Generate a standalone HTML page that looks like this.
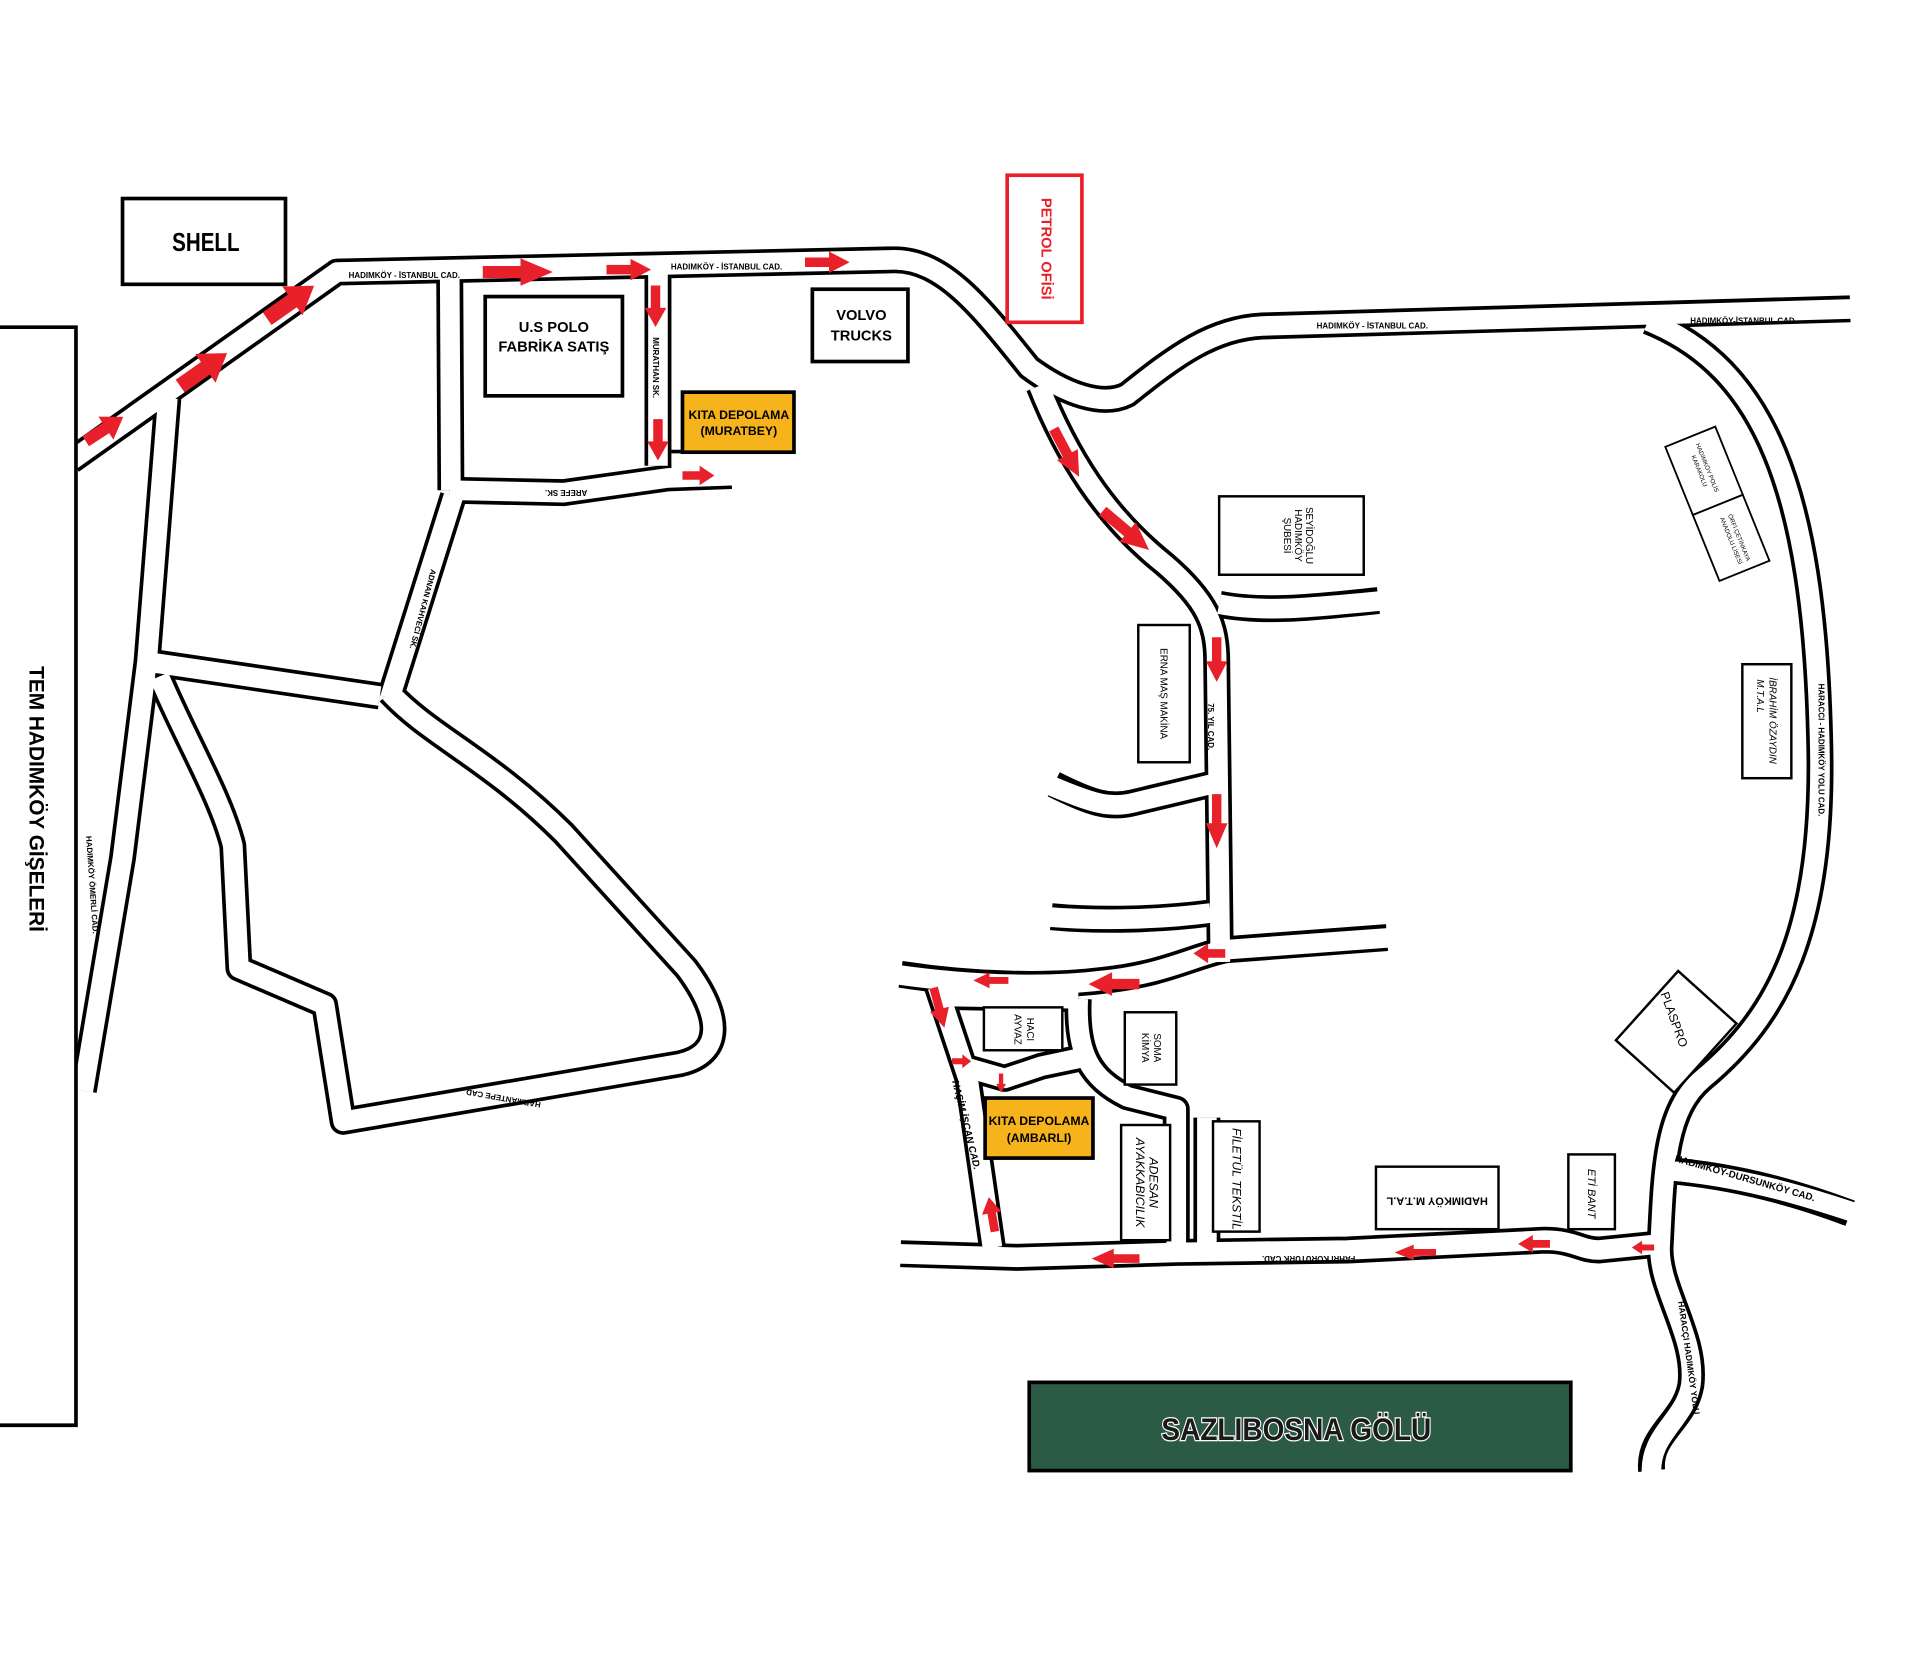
<!DOCTYPE html>
<html><head><meta charset="utf-8"><style>
html,body{margin:0;padding:0;background:#fff;width:1920px;height:1663px;overflow:hidden}
svg{display:block}
text{font-family:"Liberation Sans",sans-serif;font-weight:bold}
</style></head><body>
<svg width="1920" height="1663" viewBox="0 0 1567 1357" preserveAspectRatio="none" xmlns="http://www.w3.org/2000/svg">
<rect width="1567" height="1357" fill="#fff"/>
<g fill="none" stroke-linejoin="round" id="roads">
<g stroke="#000" stroke-width="22">
<path d="M58 376 L275 222 L730 212 C770 212 800 250 840 300 C870 322 900 332 920 322 C960 290 990 268 1030 266 L1510 252"/>
<path d="M848 315 C870 370 900 420 950 460 C985 490 993 510 993 540 L996 785"/>
<path d="M995 493 C1030 500 1070 496 1125 490"/>
<path d="M1345 262 C1440 300 1480 400 1485 600 C1490 760 1450 830 1390 880 C1360 905 1358 950 1355 1015 C1352 1050 1385 1090 1380 1130 C1375 1160 1345 1170 1348 1200"/>
<path d="M1360 955 C1420 960 1470 975 1510 990"/>
<path d="M735 1023 L830 1026 L960 1022 L1100 1020 L1260 1012 C1285 1012 1290 1020 1305 1020 L1355 1015"/>
<path d="M735 795 C800 805 860 805 900 800 C950 795 975 780 1000 775 L1132 765"/>
<path d="M860 640 C890 655 905 660 925 655 L988 640"/>
<path d="M858 748 C900 752 950 750 988 745"/>
<path d="M765 805 L790 880 L810 1018"/>
<path d="M765 813 L880 815"/>
<path d="M880 815 C878 860 890 880 920 895 L960 905 L960 1020"/>
<path d="M785 870 L820 880 L850 870 L888 862"/>
<path d="M985 912 L985 1020"/>
<path d="M367 218 L368 400"/>
<path d="M537 218 L537 380"/>
<path d="M367 400 L460 402 L545 390 L597 388"/>
<path d="M548 378 L597 378"/>
<path d="M370 405 L318 570"/>
<path d="M137 325 L120 540 L100 700 L68 890"/>
<path d="M120 540 L310 568"/>
<path d="M130 552 C150 600 180 650 190 690 L195 790 L265 820 L280 915 L555 868 C590 860 590 830 560 790 L460 680 C400 620 350 600 318 565"/>
</g>
<g stroke="#fff" stroke-width="16">
<path d="M58 376 L275 222 L730 212 C770 212 800 250 840 300 C870 322 900 332 920 322 C960 290 990 268 1030 266 L1515 252"/>
<path d="M848 315 C870 370 900 420 950 460 C985 490 993 510 993 540 L996 785"/>
<path d="M995 493 C1030 500 1070 496 1130 490"/>
<path d="M1345 262 C1440 300 1480 400 1485 600 C1490 760 1450 830 1390 880 C1360 905 1358 950 1355 1015 C1352 1050 1385 1090 1380 1130 C1375 1160 1345 1170 1348 1205"/>
<path d="M1360 955 C1420 960 1470 975 1515 990"/>
<path d="M730 1023 L830 1026 L960 1022 L1100 1020 L1260 1012 C1285 1012 1290 1020 1305 1020 L1355 1015"/>
<path d="M730 795 C800 805 860 805 900 800 C950 795 975 780 1000 775 L1137 765"/>
<path d="M855 640 C890 655 905 660 925 655 L988 640"/>
<path d="M853 748 C900 752 950 750 988 745"/>
<path d="M765 805 L790 880 L810 1018"/>
<path d="M765 813 L880 815"/>
<path d="M880 815 C878 860 890 880 920 895 L960 905 L960 1020"/>
<path d="M785 870 L820 880 L850 870 L888 862"/>
<path d="M985 912 L985 1020"/>
<path d="M367 218 L368 400"/>
<path d="M537 218 L537 380"/>
<path d="M367 400 L460 402 L545 390 L602 388"/>
<path d="M548 378 L602 378"/>
<path d="M370 405 L318 570"/>
<path d="M137 325 L120 540 L100 700 L68 890"/>
<path d="M120 540 L310 568"/>
<path d="M130 552 C150 600 180 650 190 690 L195 790 L265 820 L280 915 L555 868 C590 860 590 830 560 790 L460 680 C400 620 350 600 318 565"/>
</g>
</g>
<rect x="0" y="267" width="62" height="896" fill="#fff"/>
<polyline points="0,267 62,267 62,1163 0,1163" fill="none" stroke="#000" stroke-width="3"/>
<text transform="translate(24,652) rotate(90)" font-size="17" text-anchor="middle">TEM HADIMKÖY GİŞELERİ</text>

<defs><polygon id="ar" points="0,-3.5 14,-3.5 14,-8 26,0 14,8 14,3.5 0,3.5" fill="#e8202a"/></defs>
<g>
<use href="#ar" transform="translate(70,360) rotate(-33) scale(1.4)"/>
<use href="#ar" transform="translate(147,315) rotate(-35) scale(1.8)"/>
<use href="#ar" transform="translate(218,260) rotate(-35) scale(1.8)"/>
<use href="#ar" transform="translate(394,222) scale(2.2,1.4)"/>
<use href="#ar" transform="translate(495,220) scale(1.4,1.1)"/>
<use href="#ar" transform="translate(657,214) scale(1.4,1.1)"/>
<use href="#ar" transform="translate(535,233) rotate(90) scale(1.3,1.1)"/>
<use href="#ar" transform="translate(537,342) rotate(90) scale(1.3,1.1)"/>
<use href="#ar" transform="translate(557,388) scale(1,1)"/>
<use href="#ar" transform="translate(860,350) rotate(62) scale(1.7,1.2)"/>
<use href="#ar" transform="translate(900,417) rotate(40) scale(1.9,1.3)"/>
<use href="#ar" transform="translate(993,520) rotate(90) scale(1.4,1.1)"/>
<use href="#ar" transform="translate(993,648) rotate(90) scale(1.7,1.1)"/>
<use href="#ar" transform="translate(1000,778) rotate(180) scale(1,1)"/>
<use href="#ar" transform="translate(930,803) rotate(180) scale(1.6,1.2)"/>
<use href="#ar" transform="translate(823,800) rotate(180) scale(1.1,0.8)"/>
<use href="#ar" transform="translate(762,806) rotate(75) scale(1.3,1)"/>
<use href="#ar" transform="translate(777,866) scale(0.6,0.7)"/>
<use href="#ar" transform="translate(817,876) rotate(90) scale(0.6,0.5)"/>
<use href="#ar" transform="translate(812,1005) rotate(-100) scale(1.1,1)"/>
<use href="#ar" transform="translate(930,1027) rotate(180) scale(1.5,1)"/>
<use href="#ar" transform="translate(1172,1022) rotate(180) scale(1.3,0.8)"/>
<use href="#ar" transform="translate(1265,1015) rotate(180) scale(1,0.9)"/>
<use href="#ar" transform="translate(1350,1018) rotate(180) scale(0.7,0.7)"/>
</g>

<g fill="#fff" stroke="#000" stroke-width="3">
<rect x="100" y="162" width="133" height="70"/>
<rect x="396" y="242" width="112" height="81"/>
<rect x="663" y="236" width="78" height="59"/>
<rect x="995" y="405" width="118" height="64" stroke-width="2"/>
<rect x="929" y="510" width="42" height="112" stroke-width="2"/>
<rect x="1422" y="542" width="40" height="93" stroke-width="2"/>
<rect x="803" y="822" width="64" height="35" stroke-width="2"/>
<rect x="918" y="826" width="42" height="59" stroke-width="2"/>
<rect x="915" y="918" width="40" height="94" stroke-width="2"/>
<rect x="990" y="915" width="38" height="90" stroke-width="2"/>
<rect x="1123" y="952" width="100" height="51" stroke-width="2"/>
<rect x="1280" y="942" width="38" height="61" stroke-width="2"/>
<g transform="translate(1402,412) rotate(-22)" stroke-width="1.5"><rect x="-22" y="-60" width="44" height="60"/><rect x="-22" y="0" width="44" height="58"/></g>
<rect x="-32" y="-38" width="64" height="76" transform="translate(1368,842) rotate(42)" stroke-width="2"/>
</g>
<rect x="822" y="143" width="61" height="120" fill="#fff" stroke="#e8202a" stroke-width="3"/>
<rect x="557" y="320" width="91" height="49" fill="#f6b31b" stroke="#000" stroke-width="3"/>
<rect x="804" y="896" width="88" height="49" fill="#f6b31b" stroke="#000" stroke-width="3"/>
<rect x="840" y="1128" width="442" height="72" fill="#2c5b45" stroke="#000" stroke-width="3"/>

<g text-anchor="middle">
<text x="168" y="205" font-size="21" transform="translate(168,0) scale(0.8,1) translate(-168,0)">SHELL</text>
<text x="452" y="271" font-size="12">U.S POLO</text>
<text x="452" y="287" font-size="12">FABRİKA SATIŞ</text>
<text x="703" y="261" font-size="12">VOLVO</text>
<text x="703" y="278" font-size="12">TRUCKS</text>
<text transform="translate(850,203) rotate(90)" font-size="12" fill="#e8202a">PETROL OFİSİ</text>
<text x="603" y="342" font-size="10">KITA DEPOLAMA</text>
<text x="603" y="355" font-size="10">(MURATBEY)</text>
<text x="848" y="918" font-size="10">KITA DEPOLAMA</text>
<text x="848" y="932" font-size="10">(AMBARLI)</text>
<text x="1058" y="1175" font-size="26" fill="#1a1a1a" stroke="#fff" stroke-width="2" style="paint-order:stroke" transform="translate(1058,0) scale(0.88,1) translate(-1058,0)">SAZLIBOSNA GÖLÜ</text>
<g font-weight="normal" font-size="8" style="font-weight:normal">
<text transform="translate(1054,437) rotate(90)" style="font-weight:normal"><tspan x="0" y="-12">SEYİDOĞLU</tspan><tspan x="0" y="-3">HADIMKÖY</tspan><tspan x="0" y="6">ŞUBESİ</tspan></text>
<text transform="translate(950,566) rotate(90)" y="3" style="font-weight:normal">ERNA MAŞ MAKİNA</text>
<text transform="translate(1442,588) rotate(90)" style="font-weight:normal;font-style:italic"><tspan x="0" y="-2">İBRAHİM ÖZAYDIN</tspan><tspan x="-20" y="8">M.T.A.L</tspan></text>
<text transform="translate(835,840) rotate(90)" style="font-weight:normal"><tspan x="0" y="-3">HACI</tspan><tspan x="0" y="7">AYVAZ</tspan></text>
<text transform="translate(939,855) rotate(90)" style="font-weight:normal"><tspan x="0" y="-3">SOMA</tspan><tspan x="0" y="7">KİMYA</tspan></text>
<text transform="translate(935,965) rotate(90)" style="font-weight:normal;font-style:italic;font-size:10px"><tspan x="0" y="-3">ADESAN</tspan><tspan x="0" y="8">AYAKKABICILIK</tspan></text>
<text transform="translate(1009,962) rotate(90)" y="3" style="font-weight:normal;font-style:italic;font-size:10px">FİLETÜL TEKSTİL</text>
<text transform="translate(1173,980) rotate(180)" y="3" style="font-size:9px">HADIMKÖY M.T.A.L</text>
<text transform="translate(1299,974) rotate(90)" y="3" style="font-weight:normal;font-style:italic;font-size:9px">ETİ BANT</text>
<text transform="translate(1366,832) rotate(70)" y="3" style="font-weight:normal;font-size:10px">PLASPRO</text>
<text transform="translate(1390,383) rotate(68)" style="font-weight:normal;font-size:5px"><tspan x="0" y="-2">HADIMKÖY POLİS</tspan><tspan x="0" y="5">KARAKOLU</tspan></text>
<text transform="translate(1416,440) rotate(68)" style="font-weight:normal;font-size:5px"><tspan x="0" y="-2">ÖRFİ ÇETİNKAYA</tspan><tspan x="0" y="5">ANADOLU LİSESİ</tspan></text>
</g>
<g font-size="6.5">
<text x="330" y="227">HADIMKÖY - İSTANBUL CAD.</text>
<text x="593" y="220">HADIMKÖY - İSTANBUL CAD.</text>
<text x="1120" y="268">HADIMKÖY - İSTANBUL CAD.</text>
<text x="1423" y="264">HADIMKÖY-İSTANBUL CAD.</text>
<text transform="translate(535,300) rotate(90)" y="2">MURATHAN SK.</text>
<text transform="translate(462,402) rotate(180)" y="2">AREFE SK.</text>
<text transform="translate(345,497) rotate(105)" y="2">ADNAN KAHVECİ SK.</text>
<text transform="translate(75,722) rotate(86)" y="2">HADIMKÖY ÖMERLİ CAD.</text>
<text transform="translate(410,896) rotate(-170)" y="2">HARMANTEPE CAD.</text>
<text transform="translate(988,593) rotate(90)" y="2">75. YIL CAD.</text>
<text transform="translate(788,918) rotate(76)" y="2" font-style="italic" font-size="8">HAŞİM İŞCAN CAD.</text>
<text transform="translate(1068,1027) rotate(180)" y="2">FAHRİ KORUTÜRK CAD.</text>
<text transform="translate(1424,962) rotate(16)" y="2" font-size="8">HADIMKÖY-DURSUNKÖY CAD.</text>
<text transform="translate(1486,612) rotate(90)" y="2">HARACCI - HADIMKÖY YOLU CAD.</text>
<text transform="translate(1378,1108) rotate(82)" y="2" font-size="7">HARACÇI HADIMKÖY YOLU</text>
</g>
</g>
</svg>
</body></html>
